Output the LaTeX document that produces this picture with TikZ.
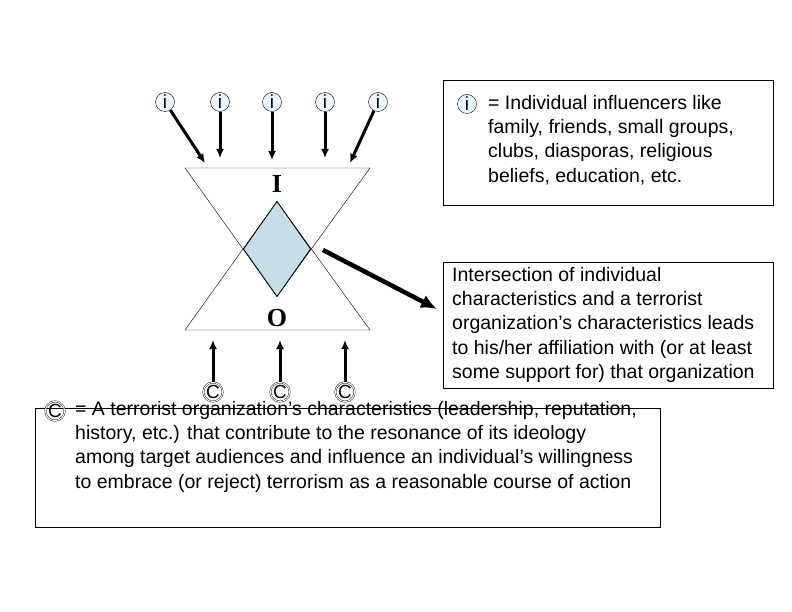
\documentclass[tikz,border=0pt]{standalone}
\usepackage{fontspec}
\usetikzlibrary{arrows.meta}
\setmainfont{Liberation Sans}
\newfontfamily\seriff{Liberation Serif}
\begin{document}
\begin{tikzpicture}[x=1pt,y=-1pt,
 ic/.style={circle,draw,fill=cyan!8,inner sep=0pt,minimum size=19pt,font=\fontsize{19}{19}\selectfont},
 cc/.style={circle,draw,double,double distance=1pt,inner sep=0pt,minimum size=17pt,font=\fontsize{19}{19}\selectfont},
 arr/.style={-{Latex[length=9pt,width=8pt]},line width=3pt},
 txt/.style={font=\fontsize{19.5}{24.3}\selectfont,align=left,anchor=north west,inner sep=0pt}]
\useasboundingbox (0,0) rectangle (792,612);
% triangles
\draw[thin] (185,168) -- (370,168) -- (277,296.5) -- cycle;
\draw[thin] (185,330) -- (370,330) -- (277,201.5) -- cycle;
\draw[fill=cyan!25!teal!25,thick] (277,201.5) -- (310.5,249) -- (277,296.5) -- (243.5,249) -- cycle;
\node[font=\seriff\bfseries\fontsize{26}{26}\selectfont] (I) at (277,184) {I};
\node[font=\seriff\bfseries\fontsize{26}{26}\selectfont] (O) at (277,318) {O};
\coordinate (D) at (323,250);
% i nodes
\foreach \n/\x in {1/165,2/220,3/272,4/325,5/378}{\node[ic] (i\n) at (\x,102) {i};}
\coordinate (t1) at (205,163); \coordinate (t2) at (220,158); \coordinate (t3) at (272,160);
\coordinate (t4) at (325,158); \coordinate (t5) at (350,163);
\foreach \n in {1,...,5}{\draw[arr] (i\n) -- (t\n);}
% C nodes
\foreach \n/\x in {1/213,2/280,3/345}{\node[cc] (c\n) at (\x,392) {C}; \coordinate (u\n) at (\x,340); \draw[arr] (c\n) -- (u\n);}
% boxes
\draw (443,80) rectangle (773,205);
\node[ic] (li) at (467,104) {i};
\node[txt] (t1x) at (488,95) {= Individual influencers like\\family, friends, small groups,\\clubs, diasporas, religious\\beliefs, education, etc.};
\draw (443,262) rectangle (773,388);
\node[txt] (t2x) at (452,267) {Intersection of individual\\characteristics and a terrorist\\organization’s characteristics leads\\to his/her affiliation with (or at least\\some support for) that organization};
\coordinate (B2) at (437,309);
\draw[-{Latex[length=16pt,width=14pt]},line width=4.5pt] (D) -- (B2);
\draw (35,408) rectangle (660,527);
\node[cc] (lc) at (55,411) {C};
\node[txt] (t3x) at (75,401) {= A terrorist organization’s characteristics (leadership, reputation,\\history, etc.) that contribute to the resonance of its ideology\\among target audiences and influence an individual’s willingness\\to embrace (or reject) terrorism as a reasonable course of action};
\end{tikzpicture}
\end{document}
